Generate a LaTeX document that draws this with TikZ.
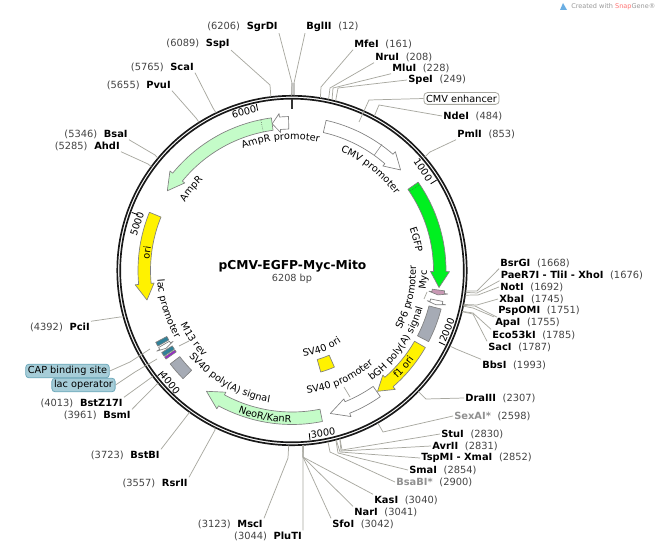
\documentclass[tikz,border=0pt]{standalone}
\usepackage{fontspec}
\setmainfont{DejaVu Sans}
\usetikzlibrary{calc,decorations.text}
\definecolor{numtext}{HTML}{444444}
\definecolor{sitegray}{HTML}{909090}
\definecolor{leadgray}{HTML}{A8A8A0}
\definecolor{featline}{HTML}{808080}
\definecolor{palegreen}{HTML}{C4FCC8}
\definecolor{brightgreen}{HTML}{00F020}
\definecolor{polygray}{HTML}{A6ABB5}
\definecolor{mycpink}{HTML}{C898B4}
\definecolor{lacteal}{HTML}{2F8199}
\definecolor{m13purple}{HTML}{9A22D0}
\definecolor{boxfill}{HTML}{A6CDD8}
\definecolor{boxline}{HTML}{6FAABC}
\newcommand{\sitefont}{\fontsize{7.4}{9}\selectfont}
\newcommand{\featfont}{\fontsize{7.3}{9}\selectfont}
\newcommand{\featarrow}[4]{\draw[feat,fill=#1] (90-#2:154) arc[start angle=90-#2,end angle=90-#3,radius=154] -- (90-#3:157.5) -- (90-#4:148) -- (90-#3:138.5) -- (90-#3:141.5) arc[start angle=90-#3,end angle=90-#2,radius=141.5] -- cycle;}
\newcommand{\featblock}[5]{\draw[feat,fill=#1] (90-#2:#5) arc[start angle=90-#2,end angle=90-#3,radius=#5] -- (90-#3:#4) arc[start angle=90-#3,end angle=90-#2,radius=#4] -- cycle;}
\newcommand{\arclabel}[4]{\path[decorate,decoration={text along path,text={|\featfont|#4},text align=center}] (90-#1:#3) arc[start angle=90-#1,end angle=90-#2,radius=#3];}
\tikzset{
  leader/.style={draw=leadgray,line width=0.55pt},
  feat/.style={draw=featline,line width=0.5pt,line join=round},
  sitelabel/.style={font=\sitefont,inner sep=0.8pt,text=black},
  tickmark/.style={draw=black,line width=0.6pt},
  ticklabel/.style={font=\featfont,inner sep=0pt},
  tagbox/.style={font=\featfont,rounded corners=2.5pt,inner sep=1.6pt,line width=0.6pt}
}
\begin{document}
\begin{tikzpicture}[x=0.75pt,y=0.75pt]
      \useasboundingbox (0,0) rectangle (656,-549);
      \fill[white] (0,0) rectangle (656,-549);
      \fill[gray!35] (291,-83) rectangle (295,-95);
      \begin{scope}[shift={(292,-270.5)}]
        \draw[black!90,line width=1.25pt] (0,0) circle[radius=174.7];
        \draw[black!90,line width=1.25pt] (0,0) circle[radius=171.8];
        \draw[black!80,line width=1.1pt] (90:171) -- (90:161);
        \foreach \t in {1000,2000,3000,4000,5000,6000} {
          \draw[tickmark] (90-\t*0.05799:170.5) -- (90-\t*0.05799:163.5);
        }
        \foreach \p in {12,161,208,228,249,484,853,1668,1676,1692,1745,1751,1755,1785,1787,1993,2307,2598,2830,2831,2852,2854,2900,3040,3041,3042,3044,3123,3557,3723,3961,4013,4392,5285,5346,5655,5765,6089,6206} {
          \coordinate (r\p) at (90-\p*0.05799:175);
        }
        \featarrow{white}{358.7}{355.3}{352.3}
        \featarrow{palegreen}{352.3}{309.2}{302.6}
        \draw[black!70,densely dotted,line width=0.4pt] (90-348.3:141.5) -- (90-348.3:154);
        \featarrow{white}{12.8}{41}{47.2}
        \draw[featline,line width=0.4pt] (90-35.5:142) -- (90-35.5:155);
        \featarrow{brightgreen}{55}{90.4}{96.6}
        \draw[black!70,densely dotted,line width=0.4pt] (90-56:143) -- (90-56:154);
        \featarrow{mycpink}{97.6}{98.6}{99.5}
        \featarrow{white}{101.6}{102.6}{103.4}
        \featblock{polygray}{104.5}{117.5}{141.5}{154}
        \featarrow{yellow}{120}{139}{144.7}
        \featarrow{white}{145}{158}{165}
        \featblock{yellow}{156.3}{164.2}{92.5}{105.5}
        \featarrow{palegreen}{168.6}{208.5}{215.3}
        \featblock{polygray}{225.2}{232.5}{141.5}{153.5}
        \featblock{m13purple}{234.9}{235.8}{141.5}{154}
        \featblock{lacteal}{236.2}{237.8}{141.5}{154}
        \featarrow{white}{240}{239.2}{238.3}
        \featblock{lacteal}{240.6}{242.2}{141.5}{154}
        \featarrow{yellow}{292.2}{264.8}{258.5}
        \arclabel{335}{375}{131}{AmpR promoter}
        \arclabel{290}{328}{127}{AmpR}
        \arclabel{15}{61}{128}{CMV promoter}
        \arclabel{60}{92}{125}{EGFP}
        \arclabel{110}{78}{135}{Myc}
        \arclabel{128}{78}{124}{SP6 promoter}
        \arclabel{155}{95}{136}{bGH poly(A) signal}
        \arclabel{145}{117}{151}{f1 ori}
        \arclabel{178}{134}{124}{SV40 promoter}
        \arclabel{178}{140}{87}{SV40 ori}
        \arclabel{210}{171}{152}{NeoR/KanR}
        \arclabel{240}{180}{134}{SV40 poly(A) signal}
        \arclabel{255}{215}{124}{M13 rev}
        \arclabel{275}{231}{135}{lac promoter}
        \arclabel{262}{292}{143}{ori}
      \end{scope}
      \foreach \t/\x/\y/\a in {1000/423/170/-56,2000/447/330/68,3000/323/433/9,4000/170/383/-50,5000/137/224/72,6000/244/112/14} {
        \node[ticklabel,rotate=\a] (tick\t) at (\x,-\y) {\t};
      }
      \foreach \nm/\p/\x/\y/\sa/\ex/\ey/\c in {
          BglII/12/305/27/south west/294/83/black,
          MfeI/161/353/44/south west/321/87/black,
          NruI/208/374/57/south west/330/88/black,
          MluI/228/391/68/south west/333/88/black,
          SpeI/249/407/80/west/338/88/black,
          NdeI/484/442/116/west/379/105/black,
          PmlI/853/456/134/south west/430/152/black,
          BsrGI/1668/499/263/south west/477/291/black,
          PaeR7I - TliI - XhoI/1676/499.5/275/south west/477/293/black,
          NotI/1692/499/287/west/478/295/black,
          XbaI/1745/498/299/west/477/305/black,
          PspOMI/1751/497/311/south west/475/306/black,
          ApaI/1755/494/323/north west/473/308/black,
          Eco53kI/1785/491/335/north west/473/313/black,
          SacI/1787/487/347/north west/473/314/black,
          BbsI/1993/481/365/north west/456/349/black,
          DraIII/2307/464/398/west/426/399/black,
          SexAI*/2598/453/416/west/383/432/sitegray,
          StuI/2830/440/434/west/342/450/black,
          AvrII/2831/431/446/west/341/451/black,
          TspMI - XmaI/2852/420/458/west/340/452/black,
          SmaI/2854/408/470/west/338/453/black,
          BsaBI*/2900/395/482/west/330/452/sitegray,
          KasI/3040/373/500/north west/303/457/black,
          NarI/3041/353/512/north west/303/457/black,
          SfoI/3042/331/524/north west/303/457/black} {
        \node[sitelabel,anchor=west] (s\p) at (\x,-\y) {{\color{\c}\textbf{\nm}}\hspace{5pt}{\color{numtext}(\p)}};
        \draw[leader] (s\p.\sa) -- (\ex,-\ey) -- (r\p);
      }
      \foreach \nm/\p/\x/\y/\sa/\ex/\ey in {
          PluTI/3044/303/536/north east/303/457,
          MscI/3123/264/524/north east/288/458,
          RsrII/3557/189/483/north east/215/430,
          BstBI/3723/161/455/north east/189/413,
          BsmI/3961/132/415/north east/157/384,
          BstZ17I/4013/124/403/north east/152/377,
          PciI/4392/91/327/north east/120/317,
          AhdI/5285/121/146/south east/148/164,
          BsaI/5346/129/134/south east/155/155,
          PvuI/5655/172/85/south east/196/118,
          ScaI/5765/195/67/south east/213/108,
          SspI/6089/231/44/south east/270/85,
          SgrDI/6206/279/27/south east/292/83} {
        \node[sitelabel,anchor=east] (s\p) at (\x,-\y) {{\color{numtext}(\p)}\hspace{5pt}\textbf{\nm}};
        \draw[leader] (s\p.\sa) -- (\ex,-\ey) -- (r\p);
      }
      \node[tagbox,draw=leadgray,fill=white] (cmvbox) at (461.5,-98.5) {CMV enhancer};
      \node[tagbox,draw=boxline,fill=boxfill] (capbox) at (67.5,-371) {CAP binding site};
      \node[tagbox,draw=boxline,fill=boxfill] (lacbox) at (83.5,-385) {lac operator};
      \coordinate (cmvend) at (359,-122);
      \coordinate (capend) at (150,-349);
      \coordinate (lacend) at (157,-359);
      \coordinate (m13start) at (179,-346);
      \coordinate (m13end) at (189,-341);
      \coordinate (spstart) at (424,-299);
      \coordinate (spend) at (427,-292);
      \coordinate (svstart) at (344,-387);
      \coordinate (svend) at (350,-397);
      \draw[leader] (cmvbox.west) -- (369,-100) -- (cmvend);
      \draw[leader] (capbox.east) -- (130,-362) -- (capend);
      \draw[leader] (lacbox.east) -- (135,-372) -- (lacend);
      \draw[leader] (m13start) -- (m13end);
      \draw[leader] (spstart) -- (spend);
      \draw[leader] (svstart) -- (svend);
      \node[font=\fontsize{9.2}{11}\selectfont\bfseries,inner sep=0pt] (plasmidname) at (292.5,-266) {pCMV-EGFP-Myc-Mito};
      \node[font=\fontsize{7.3}{9}\selectfont,text=numtext,inner sep=0pt] (plasmidsize) at (292,-279) {6208 bp};
      \fill[cyan!70!blue!60] (560,-10) -- (563,-3) -- (567,-10) -- cycle;
      \node[font=\fontsize{4.9}{6}\selectfont,text=black!40,inner sep=0pt,anchor=west] (madewith) at (571,-6.5) {Created with {\color{red!55!white}Snap}Gene®};
\end{tikzpicture}
\end{document}
